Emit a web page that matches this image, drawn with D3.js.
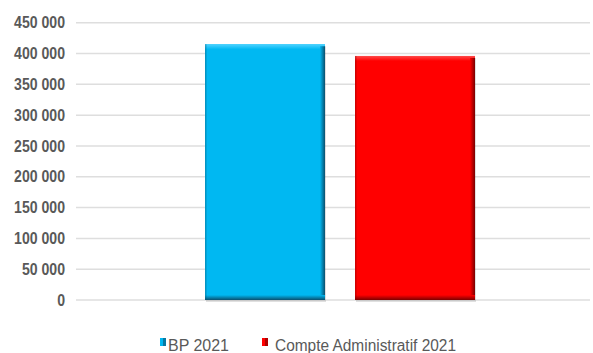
<!DOCTYPE html>
<html><head><meta charset="utf-8">
<script src="https://cdn.jsdelivr.net/npm/d3@7"></script>
<style>
body{margin:0;background:#fff;}
text{font-family:"Liberation Sans",Arial,sans-serif;}
</style></head>
<body><svg id="c" width="593" height="353"></svg>
<script>
const categories = ["BP 2021", "Compte Administratif 2021"];
const values = [415000, 396000];
const colors = ["#00B8F2", "#FF0000"];
const darkColors = ["#0a4f6e", "#7a0000"];
const lightColors = ["#4fd3ff", "#ff4a4a"];
const tickValues = [0, 50000, 100000, 150000, 200000, 250000, 300000, 350000, 400000, 450000];

const svg = d3.select("#c");
const y = d3.scaleLinear().domain([0, 450000]).range([300, 22.7]);
const x = d3.scaleBand().domain(categories).range([205, 475]).paddingInner(0.2).paddingOuter(0);
const fmt = d => d3.format(",")(d).replace(/,/g, " ");
function condense(sel, f) {
  sel.each(function() {
    const w = this.getComputedTextLength();
    d3.select(this).attr("textLength", w * f).attr("lengthAdjust", "spacingAndGlyphs");
  });
}

// gridlines
svg.append("g").selectAll("line").data(tickValues).join("line")
  .attr("x1", 76).attr("x2", 590)
  .attr("y1", d => y(d)).attr("y2", d => y(d))
  .attr("stroke", "#dedede").attr("stroke-width", 1.5);

// y axis labels
const yAxis = d3.axisLeft(y).tickValues(tickValues).tickFormat(fmt).tickSize(0).tickPadding(0);
const ga = svg.append("g").attr("transform", "translate(65,0)").call(yAxis);
ga.select(".domain").remove();
ga.selectAll("text").attr("fill", "#595959").attr("font-size", 16).attr("font-weight", "bold")
  .attr("font-family", "'Liberation Sans',Arial,sans-serif").call(condense, 0.88);

// gradients
const defs = svg.append("defs");
categories.forEach((c, i) => {
  const gr = defs.append("linearGradient").attr("id", "r" + i).attr("x1", 0).attr("x2", 1).attr("y1", 0).attr("y2", 0);
  gr.append("stop").attr("offset", 0).attr("stop-color", colors[i]);
  gr.append("stop").attr("offset", 1).attr("stop-color", darkColors[i]);
  const gb = defs.append("linearGradient").attr("id", "b" + i).attr("x1", 0).attr("x2", 0).attr("y1", 0).attr("y2", 1);
  gb.append("stop").attr("offset", 0).attr("stop-color", colors[i]);
  gb.append("stop").attr("offset", 1).attr("stop-color", darkColors[i]);
  const gt = defs.append("linearGradient").attr("id", "t" + i).attr("x1", 0).attr("x2", 0).attr("y1", 0).attr("y2", 1);
  gt.append("stop").attr("offset", 0).attr("stop-color", lightColors[i]);
  gt.append("stop").attr("offset", 1).attr("stop-color", colors[i]);
});

const data = categories.map((c, i) => ({c, v: values[i], i}));
const bars = svg.append("g").selectAll("g").data(data).join("g");
bars.append("rect")
  .attr("x", d => x(d.c) + 1).attr("y", d => y(d.v) + 2)
  .attr("width", x.bandwidth()).attr("height", d => y(0) - y(d.v))
  .attr("fill", "#000").attr("opacity", 0.12);
bars.append("rect")
  .attr("x", d => x(d.c)).attr("y", d => y(d.v))
  .attr("width", x.bandwidth()).attr("height", d => y(0) - y(d.v))
  .attr("fill", d => colors[d.i]);
bars.append("rect")
  .attr("x", d => x(d.c)).attr("y", d => y(d.v))
  .attr("width", x.bandwidth()).attr("height", 5)
  .attr("fill", d => `url(#t${d.i})`);
bars.append("rect")
  .attr("x", d => x(d.c) + x.bandwidth() - 5).attr("y", d => y(d.v) + 2)
  .attr("width", 5).attr("height", d => y(0) - y(d.v) - 2)
  .attr("fill", d => `url(#r${d.i})`);
bars.append("rect")
  .attr("x", d => x(d.c)).attr("y", d => y(0) - 5)
  .attr("width", x.bandwidth()).attr("height", 5)
  .attr("fill", d => `url(#b${d.i})`);
bars.append("rect")
  .attr("x", d => x(d.c)).attr("y", d => y(d.v))
  .attr("width", 1.5).attr("height", d => y(0) - y(d.v))
  .attr("fill", d => darkColors[d.i]).attr("opacity", 0.35);

// legend
const legX = [160, 262];
const legW = [61, 181];
const leg = svg.append("g").selectAll("g").data(data).join("g")
  .attr("transform", d => `translate(${legX[d.i]},338)`);
leg.append("rect").attr("width", 6).attr("height", 8).attr("fill", d => colors[d.i]);
leg.append("rect").attr("x", 3).attr("width", 3).attr("height", 8).attr("fill", d => darkColors[d.i]).attr("opacity", 0.6);
leg.append("text").attr("x", d => d.i === 0 ? 8 : 13).attr("y", 12.5)
  .attr("fill", "#595959").attr("font-size", 16)
  .attr("textLength", d => legW[d.i]).attr("lengthAdjust", "spacingAndGlyphs")
  .text(d => d.c);
</script></body></html>
